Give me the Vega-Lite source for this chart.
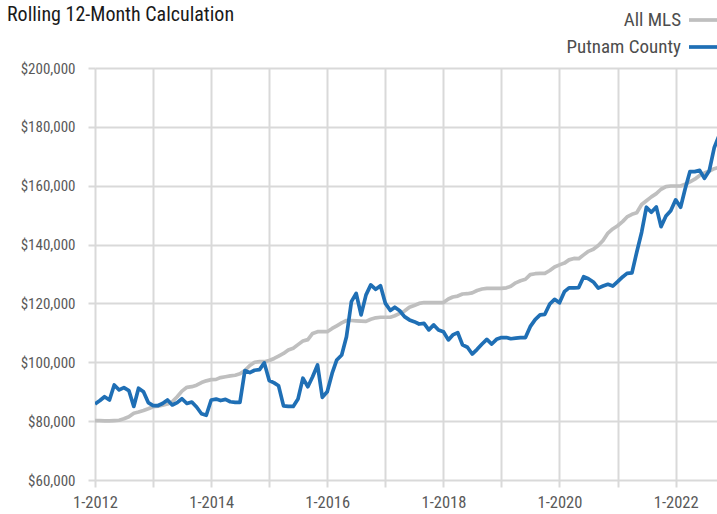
{
"$schema": "https://vega.github.io/schema/vega-lite/v6.json",
"width": 622, "height": 412,
"autosize": "none",
"padding": {"left": 95, "top": 68, "right": 0, "bottom": 34},
"background": "white",
"config": {"font": "Liberation Sans Narrow, Roboto Condensed, Arial Narrow, sans-serif", "view": {"stroke": null}},
"title": {"text": "Rolling 12-Month Calculation", "anchor": "start", "frame": "group", "dx": -88, "offset": 0, "dy": 22, "fontSize": 20, "fontWeight": "normal", "color": "#1a1a1a"},
"data": {"values": [
{"d":"2012-01","All MLS":80200,"Putnam County":85800},
{"d":"2012-02","All MLS":80200,"Putnam County":87000},
{"d":"2012-03","All MLS":80100,"Putnam County":88300},
{"d":"2012-04","All MLS":80100,"Putnam County":87200},
{"d":"2012-05","All MLS":80200,"Putnam County":92300},
{"d":"2012-06","All MLS":80300,"Putnam County":90600},
{"d":"2012-07","All MLS":80800,"Putnam County":91400},
{"d":"2012-08","All MLS":81500,"Putnam County":90400},
{"d":"2012-09","All MLS":82700,"Putnam County":85000},
{"d":"2012-10","All MLS":83100,"Putnam County":91200},
{"d":"2012-11","All MLS":83600,"Putnam County":90000},
{"d":"2012-12","All MLS":84200,"Putnam County":86300},
{"d":"2013-01","All MLS":84900,"Putnam County":85300},
{"d":"2013-02","All MLS":85100,"Putnam County":85300},
{"d":"2013-03","All MLS":85400,"Putnam County":86000},
{"d":"2013-04","All MLS":85800,"Putnam County":87200},
{"d":"2013-05","All MLS":86600,"Putnam County":85500},
{"d":"2013-06","All MLS":88300,"Putnam County":86300},
{"d":"2013-07","All MLS":90200,"Putnam County":87600},
{"d":"2013-08","All MLS":91500,"Putnam County":86000},
{"d":"2013-09","All MLS":91700,"Putnam County":86500},
{"d":"2013-10","All MLS":92200,"Putnam County":84800},
{"d":"2013-11","All MLS":93100,"Putnam County":82500},
{"d":"2013-12","All MLS":93700,"Putnam County":82000},
{"d":"2014-01","All MLS":94100,"Putnam County":87200},
{"d":"2014-02","All MLS":94200,"Putnam County":87500},
{"d":"2014-03","All MLS":94800,"Putnam County":87000},
{"d":"2014-04","All MLS":95100,"Putnam County":87400},
{"d":"2014-05","All MLS":95400,"Putnam County":86600},
{"d":"2014-06","All MLS":95600,"Putnam County":86400},
{"d":"2014-07","All MLS":96100,"Putnam County":86400},
{"d":"2014-08","All MLS":97200,"Putnam County":97200},
{"d":"2014-09","All MLS":98900,"Putnam County":96500},
{"d":"2014-10","All MLS":100000,"Putnam County":97300},
{"d":"2014-11","All MLS":100200,"Putnam County":97500},
{"d":"2014-12","All MLS":100200,"Putnam County":99800},
{"d":"2015-01","All MLS":100600,"Putnam County":93800},
{"d":"2015-02","All MLS":101300,"Putnam County":93000},
{"d":"2015-03","All MLS":102100,"Putnam County":92000},
{"d":"2015-04","All MLS":103000,"Putnam County":85200},
{"d":"2015-05","All MLS":104200,"Putnam County":85000},
{"d":"2015-06","All MLS":104800,"Putnam County":85000},
{"d":"2015-07","All MLS":106000,"Putnam County":87500},
{"d":"2015-08","All MLS":107200,"Putnam County":94600},
{"d":"2015-09","All MLS":107700,"Putnam County":91700},
{"d":"2015-10","All MLS":109800,"Putnam County":95100},
{"d":"2015-11","All MLS":110400,"Putnam County":99100},
{"d":"2015-12","All MLS":110400,"Putnam County":88100},
{"d":"2016-01","All MLS":110400,"Putnam County":90000},
{"d":"2016-02","All MLS":111500,"Putnam County":96300},
{"d":"2016-03","All MLS":112400,"Putnam County":100800},
{"d":"2016-04","All MLS":113400,"Putnam County":102500},
{"d":"2016-05","All MLS":114200,"Putnam County":108700},
{"d":"2016-06","All MLS":114200,"Putnam County":120600},
{"d":"2016-07","All MLS":114100,"Putnam County":123400},
{"d":"2016-08","All MLS":114000,"Putnam County":116100},
{"d":"2016-09","All MLS":113900,"Putnam County":122900},
{"d":"2016-10","All MLS":114600,"Putnam County":126300},
{"d":"2016-11","All MLS":115100,"Putnam County":124800},
{"d":"2016-12","All MLS":115300,"Putnam County":126000},
{"d":"2017-01","All MLS":115300,"Putnam County":120000},
{"d":"2017-02","All MLS":115300,"Putnam County":117600},
{"d":"2017-03","All MLS":115800,"Putnam County":118700},
{"d":"2017-04","All MLS":116600,"Putnam County":117500},
{"d":"2017-05","All MLS":117400,"Putnam County":115500},
{"d":"2017-06","All MLS":118700,"Putnam County":114400},
{"d":"2017-07","All MLS":119300,"Putnam County":113800},
{"d":"2017-08","All MLS":120000,"Putnam County":113000},
{"d":"2017-09","All MLS":120300,"Putnam County":113200},
{"d":"2017-10","All MLS":120300,"Putnam County":111000},
{"d":"2017-11","All MLS":120300,"Putnam County":112700},
{"d":"2017-12","All MLS":120300,"Putnam County":111000},
{"d":"2018-01","All MLS":120300,"Putnam County":110400},
{"d":"2018-02","All MLS":121500,"Putnam County":107600},
{"d":"2018-03","All MLS":122200,"Putnam County":109300},
{"d":"2018-04","All MLS":122500,"Putnam County":110100},
{"d":"2018-05","All MLS":123200,"Putnam County":105900},
{"d":"2018-06","All MLS":123300,"Putnam County":105100},
{"d":"2018-07","All MLS":123600,"Putnam County":102800},
{"d":"2018-08","All MLS":124400,"Putnam County":104400},
{"d":"2018-09","All MLS":124900,"Putnam County":106200},
{"d":"2018-10","All MLS":125100,"Putnam County":107800},
{"d":"2018-11","All MLS":125100,"Putnam County":106200},
{"d":"2018-12","All MLS":125100,"Putnam County":107800},
{"d":"2019-01","All MLS":125100,"Putnam County":108400},
{"d":"2019-02","All MLS":125300,"Putnam County":108400},
{"d":"2019-03","All MLS":125800,"Putnam County":108000},
{"d":"2019-04","All MLS":127000,"Putnam County":108200},
{"d":"2019-05","All MLS":127700,"Putnam County":108400},
{"d":"2019-06","All MLS":128200,"Putnam County":108400},
{"d":"2019-07","All MLS":129800,"Putnam County":112100},
{"d":"2019-08","All MLS":130100,"Putnam County":114500},
{"d":"2019-09","All MLS":130200,"Putnam County":116100},
{"d":"2019-10","All MLS":130200,"Putnam County":116300},
{"d":"2019-11","All MLS":131200,"Putnam County":119800},
{"d":"2019-12","All MLS":132400,"Putnam County":121400},
{"d":"2020-01","All MLS":133100,"Putnam County":120200},
{"d":"2020-02","All MLS":133700,"Putnam County":124000},
{"d":"2020-03","All MLS":134800,"Putnam County":125300},
{"d":"2020-04","All MLS":135300,"Putnam County":125300},
{"d":"2020-05","All MLS":135200,"Putnam County":125400},
{"d":"2020-06","All MLS":136500,"Putnam County":129100},
{"d":"2020-07","All MLS":137700,"Putnam County":128400},
{"d":"2020-08","All MLS":138400,"Putnam County":127300},
{"d":"2020-09","All MLS":139700,"Putnam County":125200},
{"d":"2020-10","All MLS":141400,"Putnam County":125900},
{"d":"2020-11","All MLS":143900,"Putnam County":126500},
{"d":"2020-12","All MLS":145300,"Putnam County":125900},
{"d":"2021-01","All MLS":146400,"Putnam County":127400},
{"d":"2021-02","All MLS":147800,"Putnam County":129000},
{"d":"2021-03","All MLS":149400,"Putnam County":130200},
{"d":"2021-04","All MLS":150300,"Putnam County":130400},
{"d":"2021-05","All MLS":150800,"Putnam County":137400},
{"d":"2021-06","All MLS":153600,"Putnam County":144200},
{"d":"2021-07","All MLS":154900,"Putnam County":152700},
{"d":"2021-08","All MLS":156200,"Putnam County":151000},
{"d":"2021-09","All MLS":157300,"Putnam County":152800},
{"d":"2021-10","All MLS":158800,"Putnam County":146100},
{"d":"2021-11","All MLS":159700,"Putnam County":149700},
{"d":"2021-12","All MLS":159900,"Putnam County":151500},
{"d":"2022-01","All MLS":159900,"Putnam County":155200},
{"d":"2022-02","All MLS":159900,"Putnam County":152700},
{"d":"2022-03","All MLS":160500,"Putnam County":158800},
{"d":"2022-04","All MLS":161300,"Putnam County":164800},
{"d":"2022-05","All MLS":162200,"Putnam County":164800},
{"d":"2022-06","All MLS":163500,"Putnam County":165200},
{"d":"2022-07","All MLS":164300,"Putnam County":162500},
{"d":"2022-08","All MLS":165000,"Putnam County":165200},
{"d":"2022-09","All MLS":165800,"Putnam County":173000},
{"d":"2022-10","All MLS":166300,"Putnam County":177000}
]},
"transform": [{"fold": ["All MLS", "Putnam County"], "as": ["series", "price"]}],
"mark": {"type": "line", "strokeWidth": 3.7, "clip": true, "strokeJoin": "round"},
"encoding": {
  "x": {"field": "d", "type": "temporal",
    "scale": {"type": "utc", "domain": [{"year": 2012, "month": 1, "date": 1, "utc": true}, {"year": 2022, "month": 9, "date": 18, "utc": true}]},
    "axis": {"title": null,
      "values": [{"year":2012,"month":1,"date":1,"utc":true},{"year":2013,"month":1,"date":1,"utc":true},{"year":2014,"month":1,"date":1,"utc":true},{"year":2015,"month":1,"date":1,"utc":true},{"year":2016,"month":1,"date":1,"utc":true},{"year":2017,"month":1,"date":1,"utc":true},{"year":2018,"month":1,"date":1,"utc":true},{"year":2019,"month":1,"date":1,"utc":true},{"year":2020,"month":1,"date":1,"utc":true},{"year":2021,"month":1,"date":1,"utc":true},{"year":2022,"month":1,"date":1,"utc":true}],
      "labelExpr": "utcyear(datum.value) % 2 == 0 ? '1-' + utcyear(datum.value) : ''",
      "grid": true, "gridColor": "#d9d9d9", "gridWidth": 2,
      "tickColor": "#d9d9d9", "tickWidth": 2, "tickSize": 7,
      "domain": false, "labelFontSize": 16.5, "labelColor": "#595959", "labelPadding": 7,
      "labelFlush": false, "labelOverlap": false}},
  "y": {"field": "price", "type": "quantitative",
    "scale": {"domain": [60000, 200000]},
    "axis": {"title": null, "values": [60000, 80000, 100000, 120000, 140000, 160000, 180000, 200000],
      "format": "$,.0f", "grid": true, "gridColor": "#d9d9d9", "gridWidth": 2,
      "tickColor": "#d9d9d9", "tickWidth": 2, "tickSize": 7,
      "domain": false, "labelFontSize": 15, "labelColor": "#595959", "labelPadding": 13}},
  "color": {"field": "series", "type": "nominal",
    "scale": {"domain": ["All MLS", "Putnam County"], "range": ["#bfbfbf", "#1f6fb5"]},
    "legend": {"orient": "none", "legendX": 592, "legendY": -65, "title": null, "direction": "vertical",
      "symbolType": "stroke", "symbolStrokeWidth": 3.7, "symbolSize": 900,
      "labelFontSize": 19, "labelColor": "#4d4d4d", "labelAlign": "right", "labelOffset": -40,
      "rowPadding": -4, "padding": 0}}
}
}
